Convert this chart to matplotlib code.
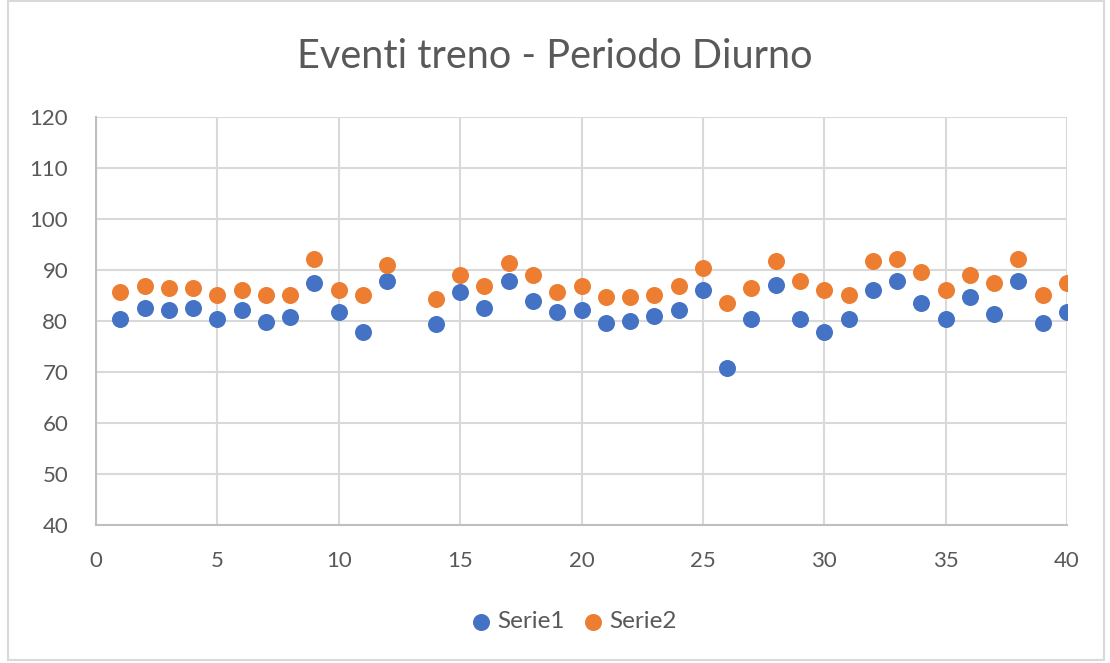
import matplotlib

matplotlib.use("Agg")
import matplotlib.pyplot as plt
from matplotlib.patches import Rectangle

# x = 13 has no reading
x_values = [1, 2, 3, 4, 5, 6, 7, 8, 9, 10, 11, 12,
            14, 15, 16, 17, 18, 19, 20, 21, 22, 23, 24, 25, 26, 27,
            28, 29, 30, 31, 32, 33, 34, 35, 36, 37, 38, 39, 40]
serie1 = [80.4, 82.6, 82.2, 82.6, 80.4, 82.1, 79.9, 80.8, 87.4, 81.8, 77.8, 87.8,
          79.5, 85.7, 82.6, 87.8, 83.9, 81.8, 82.1, 79.6, 80.0, 80.9, 82.1, 86.1, 70.7, 80.4,
          87.0, 80.4, 77.8, 80.4, 86.1, 87.8, 83.5, 80.4, 84.8, 81.3, 87.8, 79.6, 81.8]
serie2 = [85.7, 86.9, 86.5, 86.5, 85.2, 86.0, 85.2, 85.2, 92.1, 86.0, 85.2, 90.9,
          84.3, 89.1, 86.9, 91.3, 89.1, 85.7, 86.9, 84.8, 84.8, 85.2, 86.9, 90.4, 83.5, 86.5,
          91.7, 87.8, 86.0, 85.2, 91.7, 92.1, 89.6, 86.0, 89.1, 87.4, 92.1, 85.2, 87.4]
series_names = ["Serie1", "Serie2"]
title = "Eventi treno - Periodo Diurno"

plt.rcParams["font.family"] = ["Lato", "DejaVu Sans"]
text_color = "#595959"
grid_color = "#D9D9D9"

fig = plt.figure(figsize=(11.1, 6.63), dpi=100)
fig.patches.append(Rectangle((0.007, 0.004), 0.988, 0.994, transform=fig.transFigure,
                             fill=False, edgecolor="#D9D9D9", linewidth=1.5))
ax = fig.add_axes([0.0865, 0.2081, 0.8748, 0.6154])

ax.scatter(x_values, serie1, s=150, color="#4472C4", label=series_names[0], zorder=3, linewidths=0)
ax.scatter(x_values, serie2, s=150, color="#ED7D31", label=series_names[1], zorder=3, linewidths=0)

ax.set_xlim(0, 40)
ax.set_ylim(40, 120)
ax.set_xticks(range(0, 41, 5))
ax.set_yticks(range(40, 121, 10))
ax.grid(True, color=grid_color, linewidth=1.5, zorder=0)
ax.set_axisbelow(True)
for side in ["top", "right"]:
    ax.spines[side].set_visible(False)
for side in ["left", "bottom"]:
    ax.spines[side].set_color("#BFBFBF")
    ax.spines[side].set_linewidth(1.5)
ax.tick_params(length=0, labelsize=16, labelcolor=text_color)
ax.tick_params(axis="y", pad=20)
ax.tick_params(axis="x", pad=19)

fig.text(0.5, 0.915, title, ha="center", va="center", fontsize=28.5, color=text_color)
fig.legend(loc="center", bbox_to_anchor=(0.516, 0.062), ncol=2, frameon=False,
           fontsize=17.5, labelcolor=text_color, handlelength=1.0, handletextpad=0.15,
           columnspacing=0.7, markerscale=1.0)

fig.savefig("out.png", dpi=100)
